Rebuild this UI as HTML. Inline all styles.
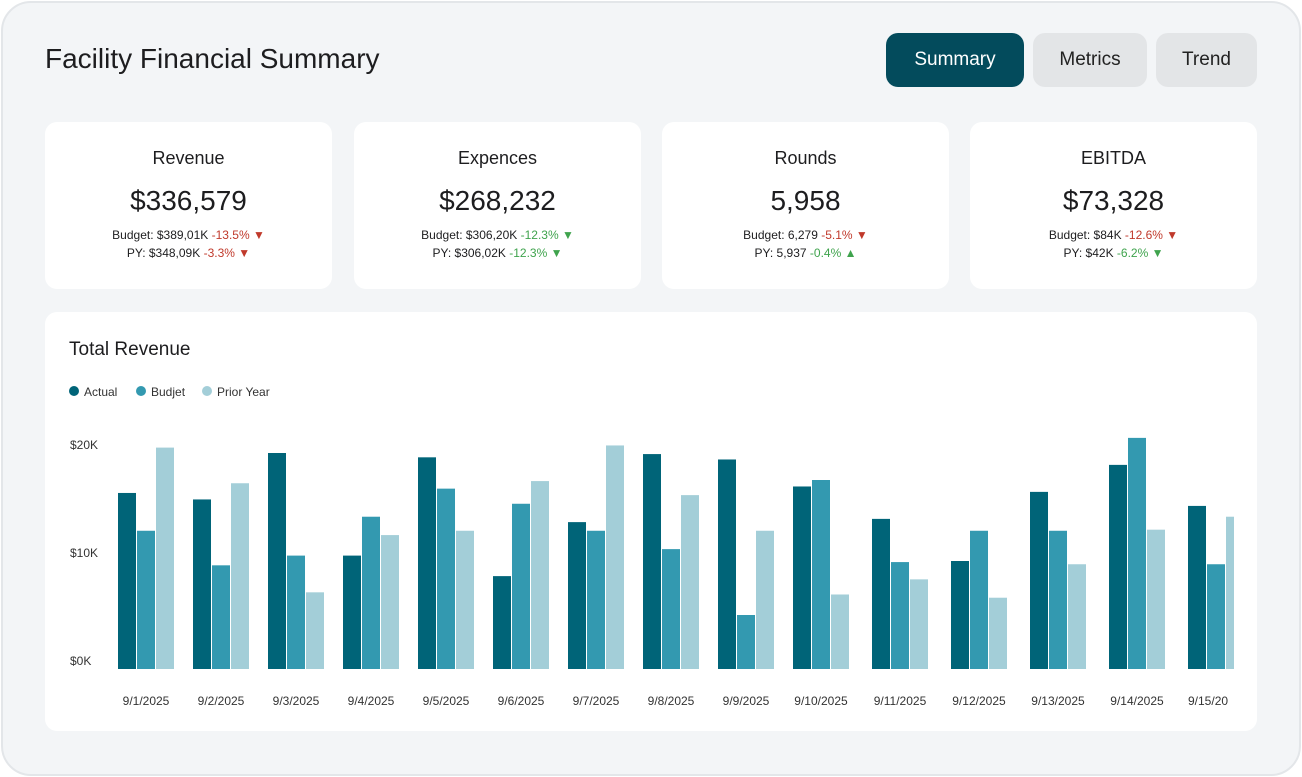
<!DOCTYPE html>
<html><head><meta charset="utf-8"><style>
*{box-sizing:border-box;margin:0;padding:0}
body{width:1302px;height:777px;background:#fff;font-family:"Liberation Sans",sans-serif;color:#1d1d1f;overflow:hidden}
.outer{position:absolute;left:1px;top:1px;width:1300px;height:775px;background:#f3f5f7;border:2px solid #e3e6e9;border-radius:30px}
.title{position:absolute;left:45px;top:43px;font-size:28px;color:#1d1d1f}
.btn{position:absolute;top:33px;height:54px;border-radius:12px;font-size:19px;display:flex;align-items:center;justify-content:center;background:#e3e5e7;color:#222}
.card{position:absolute;top:122px;width:287px;height:167px;background:#fff;border-radius:12px;text-align:center}
.card h3{font-weight:normal;font-size:18px;margin-top:26px}
.card .v{font-size:28px;margin-top:16px}
.card .s{font-size:12px;margin-top:9px;line-height:18px}
.r{color:#c0392b}.g{color:#3fa34d}
.chart{position:absolute;left:45px;top:312px;width:1212px;height:419px;background:#fff;border-radius:12px}
</style></head><body>
<div class="outer"></div>
<div class="title">Facility Financial Summary</div>
<div class="btn" style="left:886px;width:138px;background:#034b5c;color:#fff">Summary</div>
<div class="btn" style="left:1033px;width:114px">Metrics</div>
<div class="btn" style="left:1156px;width:101px">Trend</div>

<div class="card" style="left:45px"><h3>Revenue</h3><div class="v">$336,579</div><div class="s">Budget: $389,01K <span class="r">-13.5% ▼</span><br>PY: $348,09K <span class="r">-3.3% ▼</span></div></div>
<div class="card" style="left:354px"><h3>Expences</h3><div class="v">$268,232</div><div class="s">Budget: $306,20K <span class="g">-12.3% ▼</span><br>PY: $306,02K <span class="g">-12.3% ▼</span></div></div>
<div class="card" style="left:662px"><h3>Rounds</h3><div class="v">5,958</div><div class="s">Budget: 6,279 <span class="r">-5.1% ▼</span><br>PY: 5,937 <span class="g">-0.4% ▲</span></div></div>
<div class="card" style="left:970px"><h3>EBITDA</h3><div class="v">$73,328</div><div class="s">Budget: $84K <span class="r">-12.6% ▼</span><br>PY: $42K <span class="g">-6.2% ▼</span></div></div>

<div class="chart"></div>
<svg id="svg" width="1302" height="777" style="position:absolute;left:0;top:0" font-family="Liberation Sans, sans-serif">
<text x="69" y="355" font-size="19" fill="#1d1d1f">Total Revenue</text>
<g font-size="12" fill="#333">
<circle cx="74" cy="391" r="5" fill="#006478"/><text x="84" y="396">Actual</text>
<circle cx="141" cy="391" r="5" fill="#3399b0"/><text x="151" y="396">Budjet</text>
<circle cx="207" cy="391" r="5" fill="#a3ced8"/><text x="217" y="396">Prior Year</text>
</g>
<defs><clipPath id="cp"><rect x="100" y="400" width="1134" height="320"/></clipPath></defs>
<g id="bars" clip-path="url(#cp)"></g>
<g id="axis" font-size="12" fill="#333"></g>
</svg>
<script>
const categories=["9/1/2025","9/2/2025","9/3/2025","9/4/2025","9/5/2025","9/6/2025","9/7/2025","9/8/2025","9/9/2025","9/10/2025","9/11/2025","9/12/2025","9/13/2025","9/14/2025","9/15/2025"];
const actual=[16.3,15.7,20.0,10.5,19.6,8.6,13.6,19.9,19.4,16.9,13.9,10.0,16.4,18.9,15.1];
const budget=[12.8,9.6,10.5,14.1,16.7,15.3,12.8,11.1,5.0,17.5,9.9,12.8,12.8,21.4,9.7];
const prior=[20.5,17.2,7.1,12.4,12.8,17.4,20.7,16.1,12.8,6.9,8.3,6.6,9.7,12.9,14.1];
const yTicks=[0,10,20];
const yLabels=["$0K","$10K","$20K"];
const NS="http://www.w3.org/2000/svg";
const y=v=>669-v*10.8;
// band widths grow with label length (layout, not data)
function groupLeft(i){let x=118;for(let j=0;j<i;j++){x+=categories[j].length>8?79:75;}return x;}
const bars=document.getElementById('bars'),axis=document.getElementById('axis');
const series=[[actual,"#006478","actual"],[budget,"#3399b0","budget"],[prior,"#a3ced8","prior-year"]];
categories.forEach((c,i)=>{
 const gl=groupLeft(i);
 series.forEach(([arr,col,nm],k)=>{
  const r=document.createElementNS(NS,'rect');
  r.setAttribute('x',gl+k*19);r.setAttribute('width',18);
  r.setAttribute('y',y(arr[i]));r.setAttribute('height',669-y(arr[i]));r.setAttribute('fill',col);
  
  
  bars.appendChild(r);
 });
 const t=document.createElementNS(NS,'text');
 t.setAttribute('x',gl+28);t.setAttribute('y',705);t.setAttribute('text-anchor','middle');
 t.textContent=c;
 
 
 if(i==14){t.setAttribute('text-anchor','start');t.setAttribute('x',1188);t.textContent="9/15/20";}
 axis.appendChild(t);
});
yTicks.forEach((v,i)=>{
 const t=document.createElementNS(NS,'text');
 t.setAttribute('x',70);t.setAttribute('y',y(v)-4);t.textContent=yLabels[i];
 
 
 axis.appendChild(t);
});
</script>
</body></html>
